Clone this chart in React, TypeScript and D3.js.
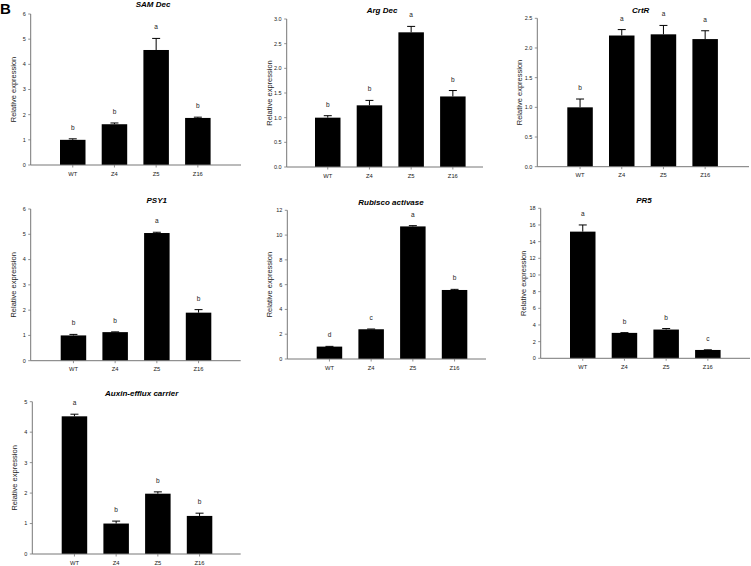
import React from "react";
import * as d3 from "d3";

// Expression data
const categories = ["WT", "Z4", "Z5", "Z16"];

const samDecValues = [1.0, 1.62, 4.57, 1.87];
const samDecErrors = [0.04, 0.05, 0.46, 0.03];
const samDecLetters = ["b", "b", "a", "b"];

const argDecValues = [1.0, 1.25, 2.73, 1.43];
const argDecErrors = [0.04, 0.1, 0.12, 0.12];
const argDecLetters = ["b", "b", "a", "b"];

const crtRValues = [1.0, 2.21, 2.23, 2.15];
const crtRErrors = [0.14, 0.1, 0.15, 0.14];
const crtRLetters = ["b", "a", "a", "a"];

const psy1Values = [1.0, 1.13, 5.05, 1.9];
const psy1Errors = [0.04, 0.01, 0.03, 0.12];
const psy1Letters = ["b", "b", "a", "b"];

const rubiscoValues = [1.0, 2.4, 10.7, 5.57];
const rubiscoErrors = [0.02, 0.02, 0.06, 0.05];
const rubiscoLetters = ["d", "c", "a", "b"];

const pr5Values = [15.2, 3.05, 3.45, 1.0];
const pr5Errors = [0.8, 0.03, 0.12, 0.02];
const pr5Letters = ["a", "b", "b", "c"];

const auxinValues = [4.52, 1.0, 1.98, 1.25];
const auxinErrors = [0.07, 0.08, 0.06, 0.09];
const auxinLetters = ["a", "b", "b", "b"];

// y-axis maxima / tick steps per panel
const yMax = [6, 3, 2.5, 6, 12, 18, 5];
const yStep = [1, 0.5, 0.5, 1, 2, 2, 1];

const FONT = "Liberation Sans, Arial, Helvetica, sans-serif";

// panel placement: axis x, axis end, top of y range, baseline, first bar left, title pos
const panels = [
  { title: "SAM Dec", values: samDecValues, errors: samDecErrors, letters: samDecLetters,
    x0: 30.7, x1: 241, top: 14, bottom: 165, barStart: 60, tx: 153, ty: 6.5, fmt: "d" },
  { title: "Arg Dec", values: argDecValues, errors: argDecErrors, letters: argDecLetters,
    x0: 286.7, x1: 483, top: 19, bottom: 167, barStart: 315, tx: 382, ty: 12.5, fmt: ".1f" },
  { title: "CrtR", values: crtRValues, errors: crtRErrors, letters: crtRLetters,
    x0: 537.3, x1: 749, top: 18.3, bottom: 166.7, barStart: 567.3, tx: 640.7, ty: 12.5, fmt: ".1f" },
  { title: "PSY1", values: psy1Values, errors: psy1Errors, letters: psy1Letters,
    x0: 30.7, x1: 240.7, top: 209, bottom: 360.7, barStart: 60.7, tx: 156.7, ty: 202.5, fmt: "d" },
  { title: "Rubisco activase", values: rubiscoValues, errors: rubiscoErrors, letters: rubiscoLetters,
    x0: 287.3, x1: 486, top: 210.3, bottom: 359, barStart: 316.7, tx: 391, ty: 205, fmt: "d" },
  { title: "PR5", values: pr5Values, errors: pr5Errors, letters: pr5Letters,
    x0: 540.7, x1: 750, top: 208.3, bottom: 358.3, barStart: 570, tx: 644, ty: 202.5, fmt: "d" },
  { title: "Auxin-efflux carrier", values: auxinValues, errors: auxinErrors, letters: auxinLetters,
    x0: 32.3, x1: 240.7, top: 401.7, bottom: 554, barStart: 61.7, tx: 141.7, ty: 396, fmt: "d" },
];

const STEP = 41.7;
const BAR_W = 25.5;

function Panel({ p, i }) {
  const gap = STEP - BAR_W;
  const x = d3
    .scaleBand()
    .domain(categories)
    .range([p.barStart - gap / 2, p.barStart - gap / 2 + 4 * STEP])
    .paddingInner(gap / STEP)
    .paddingOuter(gap / STEP / 2);
  const y = d3.scaleLinear().domain([0, yMax[i]]).range([p.bottom, p.top]);
  const ticks = d3.range(0, yMax[i] + 1e-9, yStep[i]);
  const fmt = d3.format(p.fmt);

  return (
    <g>
      <text x={p.tx} y={p.ty} textAnchor="middle" fontFamily={FONT}
        fontSize={8} fontWeight="bold" fontStyle="italic" fill="#000">
        {p.title}
      </text>
      <text
        transform={`translate(${p.x0 - 17.5},${(p.top + p.bottom) / 2}) rotate(-90)`}
        textAnchor="middle" fontFamily={FONT} fontSize={7.5} fill="#222"
        dy="0.35em">
        Relative expression
      </text>
      {categories.map((c, k) => {
        const v = p.values[k];
        const e = p.errors[k];
        const cx = x(c) + x.bandwidth() / 2;
        return (
          <g key={c}>
            <rect x={x(c)} y={y(v)} width={x.bandwidth()} height={y(0) - y(v)} fill="#000" />
            <line x1={cx} x2={cx} y1={y(v)} y2={y(v + e)} stroke="#000" strokeWidth={1} />
            <line x1={cx - 4} x2={cx + 4} y1={y(v + e)} y2={y(v + e)} stroke="#000" strokeWidth={1} />
            <text x={cx} y={y(v + e) - 9} textAnchor="middle" fontFamily={FONT}
              fontSize={6.5} fill="#222">
              {p.letters[k]}
            </text>
            <line x1={cx} x2={cx} y1={p.bottom} y2={p.bottom + 2.5} stroke="#777" strokeWidth={0.8} />
            <text x={cx} y={p.bottom + 10.5} textAnchor="middle" fontFamily={FONT}
              fontSize={5.8} fill="#222">
              {c}
            </text>
          </g>
        );
      })}
      {ticks.map((t) => (
        <g key={t}>
          <line x1={p.x0 - 2.5} x2={p.x0} y1={y(t)} y2={y(t)} stroke="#777" strokeWidth={0.8} />
          <text x={p.x0 - 5} y={y(t)} dy="0.35em" textAnchor="end" fontFamily={FONT}
            fontSize={5.5} fill="#222">
            {fmt(t)}
          </text>
        </g>
      ))}
      <line x1={p.x0} x2={p.x0} y1={p.top} y2={p.bottom} stroke="#777" strokeWidth={1} />
      <line x1={p.x0} x2={p.x1} y1={p.bottom} y2={p.bottom} stroke="#777" strokeWidth={1} />
    </g>
  );
}

export default function App() {
  return (
    <svg width={751} height={566}
      style={{ position: "absolute", left: 0, top: 0, background: "#fff" }}>
      <text x={0} y={13.5} fontFamily={FONT} fontSize={15} fontWeight="bold" fill="#000">
        B
      </text>
      {panels.map((p, i) => (
        <Panel key={p.title} p={p} i={i} />
      ))}
    </svg>
  );
}
